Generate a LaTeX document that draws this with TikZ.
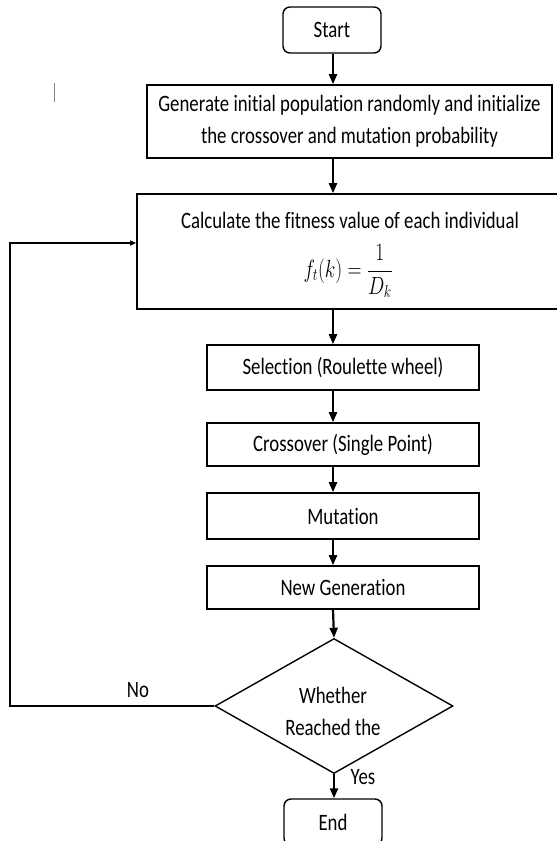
\documentclass[tikz,border=0pt]{standalone}
\usepackage{fontspec}
\setmainfont{Carlito}[FakeStretch=0.8,Ligatures=NoCommon]
\usetikzlibrary{arrows.meta,shapes.geometric}
\tikzset{
  box/.style={draw, line width=1.6pt, inner sep=0pt, align=center},
  term/.style={draw, line width=1.4pt, rounded corners=7pt, inner sep=0pt, minimum width=98pt, minimum height=46pt},
  diam/.style={draw, shape=diamond, line width=1.4pt, inner sep=0pt, aspect=1.76, minimum width=238pt, minimum height=135pt},
  arr/.style={line width=2.2pt, -{Triangle[width=8pt,length=10pt]}},
  fbarr/.style={line width=1.4pt, -{Triangle[width=5pt,length=6pt]}},
  lbl/.style={inner sep=0pt, align=center}
}
\begin{document}
\begin{tikzpicture}[x=1pt,y=1pt,font=\fontsize{23.5}{32}\selectfont]
\useasboundingbox (0,0) rectangle (557,-841);
\clip (0,0) rectangle (557,-841);
\coordinate (ax) at (333,0);
\coordinate (fb) at (10,-243);
% stray mark
\draw[gray, line width=0.8pt] (54,-83) -- (54,-102);

\node[term] (s) at (332,-30) {Start};
\node[box, minimum width=405pt, minimum height=73pt] (b2) at (349.5,-121.5)
  {Generate initial population randomly and initialize\\the crossover and mutation probability};
\node[box, minimum width=428pt, minimum height=115pt] (b3) at (351,-251.5) {};
\node[lbl] (b3a) at (350,-220) {Calculate the fitness value of each individual};
\node[lbl] (b3b) at (348,-271) {\scalebox{0.78}[1]{$\displaystyle f_t(k)=\frac{1}{D_k}$}};
\node[box, minimum width=272pt, minimum height=45pt] (sel) at (343,-367.5) {Selection (Roulette wheel)};
\node[box, minimum width=272pt, minimum height=43pt] (cro) at (343,-444.5) {Crossover (Single Point)};
\node[box, minimum width=272pt, minimum height=46pt] (mut) at (343,-516) {Mutation};
\node[box, minimum width=272pt, minimum height=43pt] (ng) at (343,-587.5) {New Generation};
\node[diam] (d) at (334,-706) {};
\node[lbl] (dt) at (333,-711) {Whether\\Reached the};
\node[term] (e) at (333,-822) {End};
\node[lbl] (no) at (138,-690) {No};
\node[lbl] (yes) at (363,-777) {Yes};

\draw[arr] (s.south -| ax) -- (b2.north -| ax);
\draw[arr] (b2.south -| ax) -- (b3.north -| ax);
\draw[arr] (b3.south -| ax) -- (sel.north -| ax);
\draw[arr] (sel.south -| ax) -- (cro.north -| ax);
\draw[arr] (cro.south -| ax) -- (mut.north -| ax);
\draw[arr] (mut.south -| ax) -- (ng.north -| ax);
\draw[arr] (ng.south -| ax) -- (d.north);
\draw[arr] (d.south) -- (e.north -| d.south);
\draw[fbarr] (d.west) -| (fb) -- (b3.west |- fb);
\end{tikzpicture}
\end{document}
